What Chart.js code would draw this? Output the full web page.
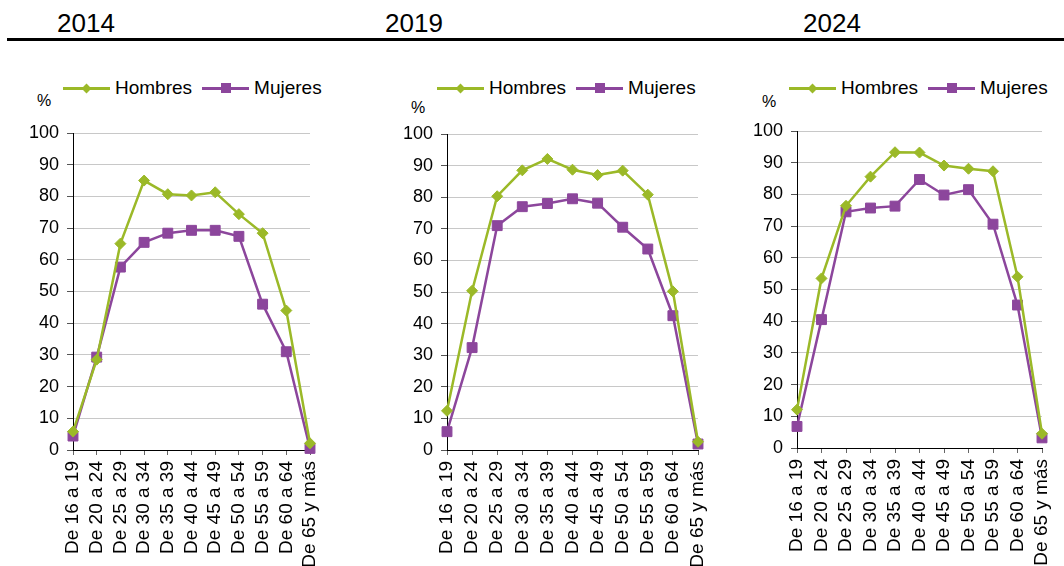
<!DOCTYPE html>
<html>
<head>
<meta charset="utf-8">
<script src="https://cdn.jsdelivr.net/npm/chart.js@4/dist/chart.umd.min.js"></script>
<style>
body{margin:0;width:1064px;height:566px;position:relative;overflow:hidden;background:#fff;font-family:"Liberation Sans",Arial,sans-serif;color:#000}
canvas{position:absolute}
.titulo{position:absolute;top:8px;font-size:26px;line-height:30px}
.regla{position:absolute;left:7px;top:38px;width:1057px;height:3px;background:#000}
.pct{position:absolute;font-size:16px;line-height:16px}
.ley{position:absolute;top:78px;height:20px;font-size:19px;line-height:20px;display:flex;align-items:center;white-space:nowrap}
.lin{display:inline-block;width:47px;height:3px;position:relative;margin-right:5px}
.lin + span{margin-right:10px}
.mk{position:absolute;left:50%;top:50%}
.rombo{width:7px;height:7px;margin:-3.5px 0 0 -3.5px;transform:rotate(45deg)}
.cuad{width:10px;height:10px;margin:-5px 0 0 -5px}
</style>
</head>
<body>
<div class="regla"></div>
<div class="titulo" style="left:57px">2014</div>
<div class="titulo" style="left:385px">2019</div>
<div class="titulo" style="left:803px">2024</div>

<div class="pct" style="left:37px;top:93px">%</div>
<div class="pct" style="left:411px;top:100px">%</div>
<div class="pct" style="left:762px;top:94px">%</div>

<div class="ley" id="ley1" style="left:63px"></div>
<div class="ley" id="ley2" style="left:437px"></div>
<div class="ley" id="ley3" style="left:789px"></div>

<canvas id="g2014" width="340" height="466" style="left:0;top:100px"></canvas>
<canvas id="g2019" width="370" height="466" style="left:360px;top:100px"></canvas>
<canvas id="g2024" width="354" height="466" style="left:720px;top:100px"></canvas>

<script>
const edades = ['De 16 a 19', 'De 20 a 24', 'De 25 a 29', 'De 30 a 34', 'De 35 a 39', 'De 40 a 44',
    'De 45 a 49', 'De 50 a 54', 'De 55 a 59', 'De 60 a 64', 'De 65 y más'];

const hombres2014 = [5.8, 28.5, 65.1, 85.0, 80.7, 80.3, 81.3, 74.4, 68.4, 44.0, 2.1];
const mujeres2014 = [4.4, 29.3, 57.7, 65.5, 68.4, 69.3, 69.3, 67.4, 46.0, 31.0, 0.5];
const hombres2019 = [12.4, 50.4, 80.3, 88.5, 92.1, 88.7, 87.0, 88.4, 80.8, 50.2, 2.6];
const mujeres2019 = [5.8, 32.4, 71.0, 77.0, 78.0, 79.5, 78.1, 70.5, 63.6, 42.5, 1.9];
const hombres2024 = [12.1, 53.5, 76.4, 85.6, 93.3, 93.2, 89.1, 88.1, 87.3, 54.0, 4.5];
const mujeres2024 = [6.8, 40.5, 74.5, 75.7, 76.3, 84.7, 79.8, 81.5, 70.6, 45.1, 3.2];

const series = ['Hombres', 'Mujeres'];
const colores = ['#9bb928', '#8c469c'];
const marcas = ['rombo', 'cuad'];

// leyendas en html (línea con marcador)
['ley1', 'ley2', 'ley3'].forEach(id => {
    const el = document.getElementById(id);
    el.innerHTML = series.map((s, i) =>
        '<span class="lin" style="background:' + colores[i] + '"><span class="mk ' + marcas[i] +
        '" style="background:' + colores[i] + '"></span></span><span>' + s + '</span>').join('');
});

function crearPanel(id, hombres, mujeres, anchoEjeY, padTop, padRight, altoEjeX) {
    const ctx = document.getElementById(id).getContext('2d');
    return new Chart(ctx, {
        type: 'line',
        data: {
            labels: edades,
            datasets: [{
                label: series[0],
                data: hombres,
                borderColor: colores[0],
                backgroundColor: colores[0],
                borderWidth: 2.5,
                pointStyle: 'rectRot',
                pointRadius: 5.5,
                pointBorderWidth: 1,
                clip: false
            }, {
                label: series[1],
                data: mujeres,
                borderColor: colores[1],
                backgroundColor: colores[1],
                borderWidth: 2.5,
                pointStyle: 'rect',
                pointRadius: 7,
                pointBorderWidth: 1,
                clip: false
            }]
        },
        options: {
            responsive: false,
            animation: false,
            layout: { padding: { top: padTop, right: padRight, left: 0, bottom: 0 } },
            plugins: { legend: { display: false }, tooltip: { enabled: false } },
            scales: {
                x: {
                    offset: false,
                    afterFit: s => { s.height = altoEjeX; },
                    border: { color: '#000', width: 1 },
                    grid: { drawOnChartArea: false, drawTicks: true, tickLength: 5, tickColor: '#666' },
                    ticks: {
                        autoSkip: false, maxRotation: 90, minRotation: 90, padding: 6,
                        color: '#000', font: { family: '"Liberation Sans", Arial', size: 19 }
                    }
                },
                y: {
                    min: 0, max: 100,
                    afterFit: s => { s.width = anchoEjeY; },
                    border: { color: '#000', width: 1 },
                    grid: {
                        color: '#c8c8c8', borderDash: [2, 2], lineWidth: 1,
                        drawTicks: true, tickLength: 6, tickColor: '#555', tickBorderDash: []
                    },
                    ticks: {
                        stepSize: 10, padding: 8, color: '#000',
                        font: { family: '"Liberation Sans", Arial', size: 18 }
                    }
                }
            }
        }
    });
}

window.onload = function() {
    // canvas arriba en 100; el área del gráfico debe caer en la parte superior de cada panel
    crearPanel('g2014', hombres2014, mujeres2014, 73, 33, 30, 116);
    crearPanel('g2019', hombres2019, mujeres2019, 87, 34, 32, 116);
    crearPanel('g2024', hombres2024, mujeres2024, 77, 31, 32, 118);
};
</script>
</body>
</html>
